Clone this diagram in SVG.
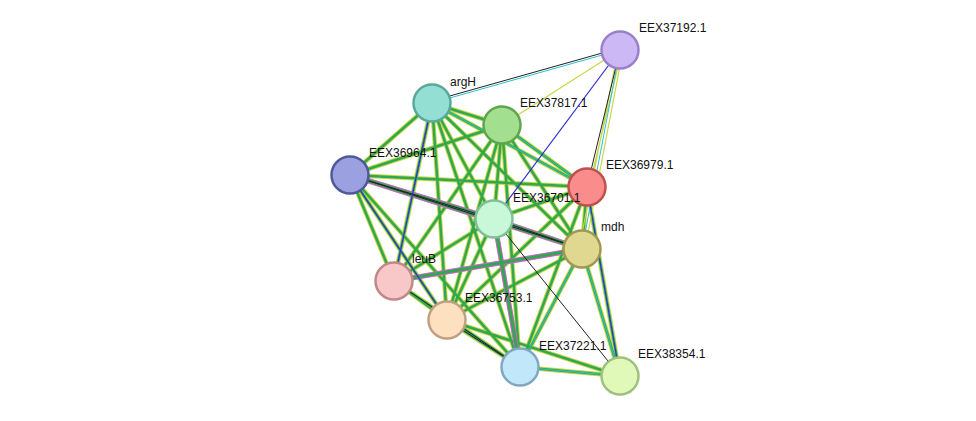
<svg xmlns="http://www.w3.org/2000/svg" width="976" height="421" viewBox="0 0 976 421">
<defs><style>
.a1{stroke:#c8d84a;stroke-width:4.5;fill:none}
.a2{stroke:#2fa84f;stroke-width:2.5;fill:none}
.a3{stroke:#2fc0d0;stroke-width:1;fill:none}
.y{stroke:#c8d84a;stroke-width:1.2;fill:none}
.m1{stroke:#d060d0;stroke-width:5;fill:none}
.m2{stroke:#2fa84f;stroke-width:3;fill:none}
.m3{stroke:#222;stroke-width:1;fill:none}
.b{stroke:#3030d0;stroke-width:1.2;fill:none}
.n{stroke-width:2.5}
text{font-family:"Liberation Sans",Arial,sans-serif;font-size:12px;fill:#111}
</style></defs>
<rect width="976" height="421" fill="#fff"/>
<g id="connectors">
<path class="a1" d="M432 103L502 125M432 103L350 175M432 103L587 187M432 103L494 219M432 103L582 249M432 103L394 281M432 103L447 320M432 103L520 367M502 125L350 175M502 125L587 187M502 125L494 219M502 125L582 249M502 125L394 281M502 125L447 320M502 125L520 367M350 175L587 187M350 175L494 219M350 175L582 249M350 175L394 281M350 175L447 320M350 175L520 367M587 187L494 219M587 187L582 249M587 187L520 367M587 187L620 376M587 187L447 320M494 219L582 249M494 219L394 281M494 219L447 320M494 219L520 367M582 249L394 281M582 249L447 320M582 249L520 367M582 249L620 376M394 281L447 320M394 281L520 367M447 320L520 367M447 320L620 376M520 367L620 376"/>
<path class="a2" d="M432 103L502 125M432 103L350 175M432 103L587 187M432 103L494 219M432 103L582 249M432 103L394 281M432 103L447 320M432 103L520 367M502 125L350 175M502 125L587 187M502 125L494 219M502 125L582 249M502 125L394 281M502 125L447 320M502 125L520 367M350 175L587 187M350 175L394 281M350 175L447 320M350 175L520 367M587 187L494 219M587 187L582 249M587 187L520 367M587 187L620 376M587 187L447 320M494 219L394 281M494 219L447 320M494 219L520 367M582 249L394 281M582 249L447 320M582 249L520 367M582 249L620 376M394 281L447 320M394 281L520 367M447 320L520 367M447 320L620 376M520 367L620 376"/>
<path class="a3" d="M432 103L587 187M432 103L394 281M502 125L587 187M587 187L620 376M582 249L520 367M447 320L520 367M520 367L620 376M582 249L620 376"/>
<path class="y" d="M620 50L502 125M623 50L585 249M618 50L579 249M622 50L589 187"/>
<path class="a3" d="M620 50L582 249M620 50L432 103"/>
<path class="m1" d="M350 175L494 219M350 175L582 249M494 219L582 249M494 219L520 367M582 249L394 281"/>
<path class="m2" d="M350 175L494 219M350 175L582 249M494 219L582 249M494 219L520 367M582 249L394 281"/>
<path class="m3" d="M350 175L494 219M350 175L582 249M494 219L582 249M494 219L620 376M394 281L520 367M447 320L520 367M620 48L432 101M620 50L587 187"/>
<path class="b" d="M620 50L494 219M432 103L394 281M587 187L620 376M350 175L447 320"/>
</g>
<g id="EEX37192.1"><circle class="n" cx="620" cy="50" r="18.5" fill="#cbb8f5" stroke="#9a80c8"/><text x="639" y="32">EEX37192.1</text></g>
<g id="argH"><circle class="n" cx="432" cy="103" r="18.5" fill="#94dfd4" stroke="#5aa89c"/><text x="450" y="86">argH</text></g>
<g id="EEX37817.1"><circle class="n" cx="502" cy="125" r="18.5" fill="#a2e090" stroke="#5ea550"/><text x="520" y="107">EEX37817.1</text></g>
<g id="EEX36964.1"><circle class="n" cx="350" cy="175" r="18.5" fill="#9aa0e0" stroke="#50589a"/><text x="369" y="157">EEX36964.1</text></g>
<g id="EEX36979.1"><circle class="n" cx="587" cy="187" r="18.5" fill="#fa8c8c" stroke="#c05050"/><text x="606" y="169">EEX36979.1</text></g>
<g id="EEX36701.1"><circle class="n" cx="494" cy="219" r="18.5" fill="#c8f8d8" stroke="#80c098"/><text x="513" y="202">EEX36701.1</text></g>
<g id="mdh"><circle class="n" cx="582" cy="249" r="18.5" fill="#e0d890" stroke="#a09850"/><text x="601" y="231">mdh</text></g>
<g id="leuB"><circle class="n" cx="394" cy="281" r="18.5" fill="#f8c8c8" stroke="#c08888"/><text x="412" y="263">leuB</text></g>
<g id="EEX36753.1"><circle class="n" cx="447" cy="320" r="18.5" fill="#fde0c0" stroke="#c0a080"/><text x="465" y="302">EEX36753.1</text></g>
<g id="EEX37221.1"><circle class="n" cx="520" cy="367" r="18.5" fill="#c0e8fa" stroke="#80a8c0"/><text x="539" y="350">EEX37221.1</text></g>
<g id="EEX38354.1"><circle class="n" cx="620" cy="376" r="18.5" fill="#e0f8b8" stroke="#a0c080"/><text x="638" y="358">EEX38354.1</text></g>
</svg>
